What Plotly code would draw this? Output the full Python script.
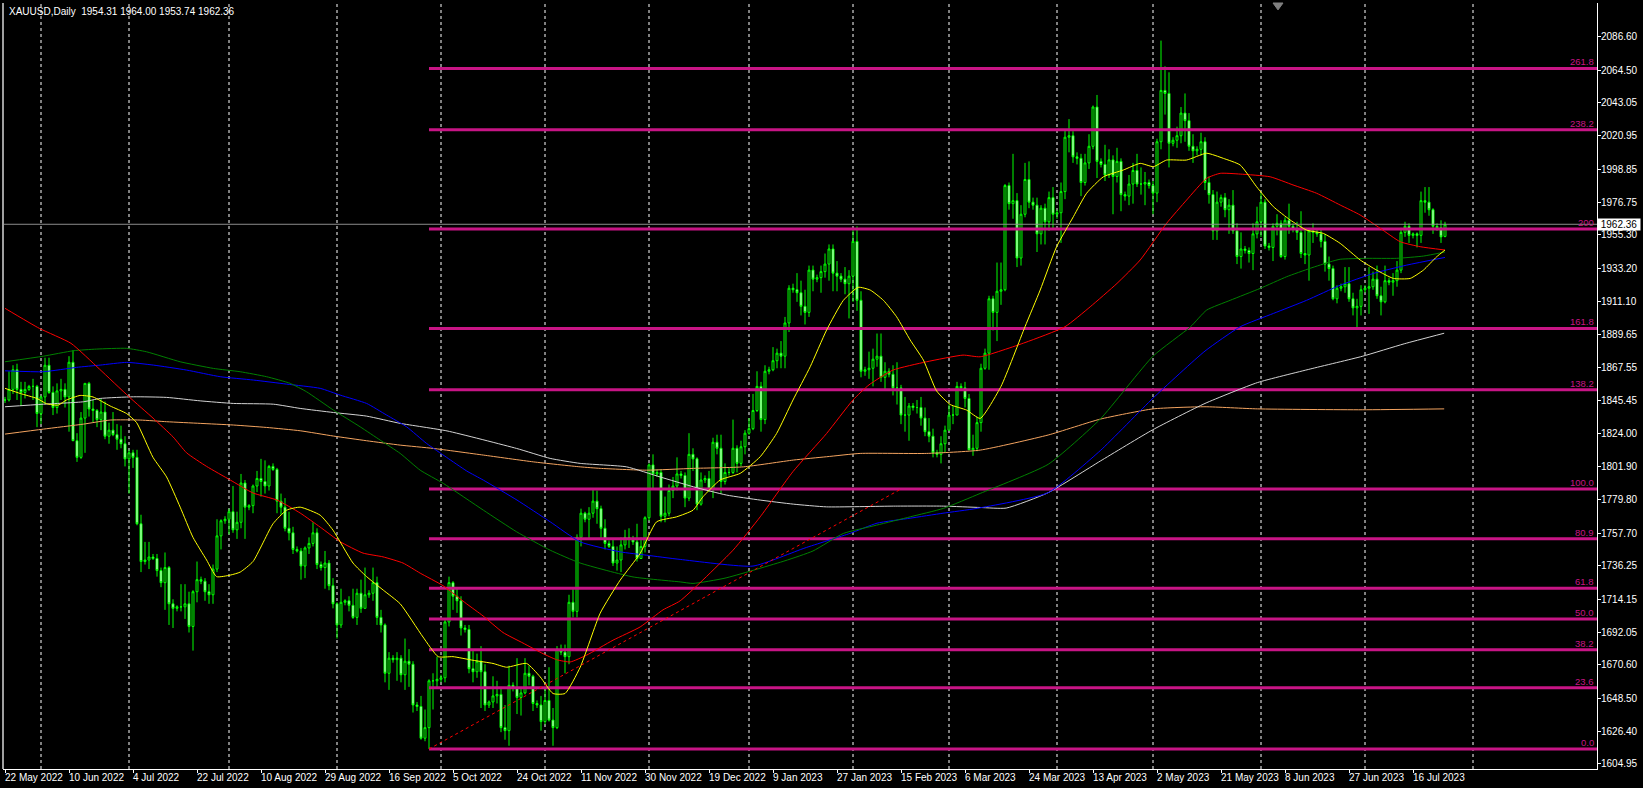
import plotly.graph_objects as go

# ---------------- OHLC (open, high, low, close) per month ----------------
may_2022 = [
    [1846, 1848, 1844, 1846], [1846, 1865, 1845, 1853], [1853, 1869, 1850, 1866], [1866, 1870, 1846, 1853],
    [1853, 1858, 1842, 1851], [1851, 1858, 1847, 1853], [1853, 1856, 1852, 1855], [1855, 1860, 1846, 1855],
    [1855, 1856, 1828, 1837],
]
jun_2022 = [
    [1837, 1849, 1830, 1848], [1848, 1874, 1843, 1869], [1869, 1874, 1850, 1851], [1851, 1855, 1836, 1841],
    [1841, 1857, 1837, 1852], [1852, 1860, 1846, 1853], [1853, 1857, 1841, 1848], [1848, 1875, 1825, 1871],
    [1871, 1879, 1819, 1819], [1819, 1824, 1805, 1808], [1808, 1838, 1807, 1834], [1834, 1857, 1811, 1857],
    [1857, 1858, 1835, 1840], [1840, 1846, 1831, 1839], [1839, 1840, 1828, 1833], [1833, 1847, 1826, 1838],
    [1838, 1845, 1820, 1822], [1822, 1831, 1817, 1826], [1826, 1838, 1822, 1823], [1823, 1830, 1813, 1820],
    [1820, 1829, 1814, 1817], [1817, 1822, 1802, 1807],
]
jul_2022 = [
    [1807, 1813, 1784, 1811], [1811, 1813, 1801, 1808], [1808, 1813, 1763, 1764], [1764, 1770, 1732, 1739],
    [1739, 1752, 1737, 1740], [1740, 1752, 1734, 1742], [1742, 1744, 1740, 1741], [1741, 1744, 1729, 1733],
    [1733, 1735, 1722, 1725], [1725, 1745, 1707, 1735], [1735, 1736, 1697, 1711], [1711, 1714, 1695, 1708],
    [1708, 1710, 1706, 1709], [1709, 1724, 1706, 1709], [1709, 1724, 1701, 1711], [1711, 1719, 1692, 1696],
    [1696, 1720, 1680, 1719], [1719, 1739, 1712, 1727], [1727, 1729, 1724, 1726], [1726, 1728, 1713, 1719],
    [1719, 1724, 1711, 1717], [1717, 1737, 1711, 1734], [1734, 1767, 1732, 1756], [1756, 1767, 1747, 1766],
    [1766, 1769, 1764, 1767],
]
aug_2022 = [
    [1767, 1774, 1757, 1772], [1772, 1789, 1758, 1760], [1760, 1772, 1754, 1765], [1765, 1797, 1761, 1791],
    [1791, 1793, 1754, 1775], [1775, 1777, 1773, 1776], [1776, 1790, 1771, 1789], [1789, 1799, 1785, 1794],
    [1794, 1807, 1782, 1792], [1792, 1806, 1784, 1789], [1789, 1803, 1786, 1802], [1802, 1804, 1799, 1800],
    [1800, 1801, 1771, 1779], [1779, 1784, 1770, 1775], [1775, 1781, 1759, 1761], [1761, 1772, 1753, 1758],
    [1758, 1762, 1744, 1747], [1747, 1749, 1745, 1746], [1746, 1748, 1727, 1736], [1736, 1749, 1728, 1748],
    [1748, 1755, 1744, 1751], [1751, 1765, 1749, 1758], [1758, 1761, 1734, 1737], [1737, 1739, 1733, 1735],
    [1735, 1746, 1721, 1738], [1738, 1740, 1720, 1723], [1723, 1728, 1708, 1711],
]
sep_2022 = [
    [1711, 1712, 1688, 1697], [1697, 1721, 1695, 1712], [1712, 1714, 1710, 1713], [1713, 1716, 1706, 1710],
    [1710, 1721, 1701, 1702], [1702, 1721, 1697, 1718], [1718, 1727, 1705, 1708], [1708, 1735, 1708, 1717],
    [1717, 1720, 1715, 1718], [1718, 1735, 1713, 1725], [1725, 1729, 1697, 1702], [1702, 1707, 1692, 1697],
    [1697, 1698, 1659, 1665], [1665, 1679, 1654, 1675], [1675, 1677, 1672, 1674], [1674, 1679, 1660, 1675],
    [1675, 1677, 1659, 1664], [1664, 1688, 1654, 1673], [1673, 1681, 1656, 1671], [1671, 1673, 1639, 1644],
    [1644, 1646, 1640, 1643], [1643, 1650, 1621, 1622], [1622, 1641, 1620, 1629], [1629, 1661, 1614.85, 1660],
    [1660, 1665, 1641, 1660], [1660, 1676, 1655, 1661],
]
oct_2022 = [
    [1661, 1664, 1659, 1662], [1662, 1701, 1659, 1699], [1699, 1729, 1696, 1725], [1725, 1726, 1707, 1716],
    [1716, 1721, 1705, 1713], [1713, 1716, 1690, 1695], [1695, 1697, 1692, 1694], [1694, 1697, 1665, 1668],
    [1668, 1681, 1659, 1666], [1666, 1678, 1662, 1673], [1673, 1683, 1642, 1666], [1666, 1671, 1640, 1644],
    [1644, 1647, 1642, 1646], [1646, 1663, 1642, 1650], [1650, 1660, 1645, 1651], [1651, 1656, 1626, 1629],
    [1629, 1644, 1621, 1627], [1627, 1670, 1617, 1657], [1657, 1659, 1653, 1655], [1655, 1675, 1638, 1649],
    [1649, 1656, 1637, 1652], [1652, 1675, 1651, 1665], [1665, 1670, 1657, 1663], [1663, 1664, 1640, 1645],
    [1645, 1647, 1642, 1644], [1644, 1650, 1627, 1633],
]
nov_2022 = [
    [1633, 1655, 1631, 1647], [1647, 1669, 1633, 1634], [1634, 1642, 1617, 1629], [1629, 1683, 1628, 1681],
    [1681, 1684, 1677, 1679], [1679, 1684, 1665, 1676], [1676, 1717, 1671, 1712], [1712, 1722, 1702, 1706],
    [1706, 1757, 1702, 1755], [1755, 1774, 1749, 1771], [1771, 1772, 1765, 1767], [1767, 1775, 1754, 1771],
    [1771, 1787, 1768, 1779], [1779, 1786, 1764, 1774], [1774, 1776, 1754, 1761], [1761, 1767, 1747, 1751],
    [1751, 1753, 1748, 1749], [1749, 1754, 1736, 1738], [1738, 1749, 1733, 1740], [1740, 1755, 1732, 1750],
    [1750, 1760, 1747, 1755], [1755, 1761, 1748, 1754], [1754, 1756, 1750, 1752], [1752, 1764, 1739, 1741],
    [1741, 1755, 1741, 1749], [1749, 1769, 1745, 1768],
]
dec_2022 = [
    [1768, 1804, 1766, 1803], [1803, 1810, 1787, 1797], [1797, 1800, 1795, 1798], [1798, 1800, 1765, 1769],
    [1769, 1782, 1765, 1771], [1771, 1790, 1769, 1786], [1786, 1795, 1781, 1789], [1789, 1808, 1786, 1797],
    [1797, 1799, 1794, 1796], [1796, 1798, 1775, 1781], [1781, 1824, 1779, 1810], [1810, 1814, 1799, 1807],
    [1807, 1808, 1773, 1777], [1777, 1798, 1776, 1793], [1793, 1796, 1791, 1794], [1794, 1799, 1785, 1787],
    [1787, 1821, 1781, 1818], [1818, 1823, 1810, 1814], [1814, 1823, 1784, 1792], [1792, 1804, 1790, 1798],
    [1798, 1801, 1796, 1798], [1798, 1833, 1797, 1814], [1814, 1816, 1798, 1804], [1804, 1819, 1802, 1815],
    [1815, 1826, 1810, 1824],
]
jan_2023 = [
    [1824, 1834, 1823, 1827], [1827, 1850, 1826, 1839], [1839, 1865, 1838, 1855], [1855, 1858, 1825, 1833],
    [1833, 1869, 1830, 1865], [1865, 1868, 1863, 1866], [1866, 1881, 1865, 1872], [1872, 1880, 1867, 1877],
    [1877, 1885, 1867, 1875], [1875, 1901, 1867, 1897], [1897, 1922, 1891, 1920], [1920, 1923, 1917, 1919],
    [1919, 1930, 1911, 1917], [1917, 1925, 1902, 1908], [1908, 1919, 1896, 1904], [1904, 1935, 1901, 1932],
    [1932, 1935, 1918, 1926], [1926, 1929, 1924, 1927], [1927, 1935, 1917, 1931], [1931, 1943, 1927, 1936],
    [1936, 1949, 1925, 1946], [1946, 1949, 1918, 1930], [1930, 1938, 1918, 1928], [1928, 1930, 1924, 1926],
    [1926, 1934, 1916, 1923], [1923, 1932, 1900, 1928],
]
feb_2023 = [
    [1928, 1959, 1911, 1951], [1951, 1961, 1905, 1912], [1912, 1918, 1861, 1865], [1865, 1868, 1862, 1866],
    [1866, 1878, 1860, 1867], [1867, 1880, 1855, 1873], [1873, 1890, 1868, 1875], [1875, 1890, 1858, 1861],
    [1861, 1871, 1853, 1865], [1865, 1867, 1861, 1863], [1863, 1869, 1849, 1854], [1854, 1871, 1843, 1854],
    [1854, 1856, 1830, 1836], [1836, 1848, 1825, 1836], [1836, 1844, 1819, 1842], [1842, 1844, 1839, 1841],
    [1841, 1846, 1837, 1841], [1841, 1848, 1829, 1834], [1834, 1841, 1822, 1825], [1825, 1834, 1818, 1822],
    [1822, 1827, 1808, 1811], [1811, 1813, 1808, 1810], [1810, 1822, 1804, 1817], [1817, 1829, 1811, 1826],
]
mar_2023 = [
    [1826, 1843, 1826, 1836], [1836, 1842, 1830, 1836], [1836, 1858, 1836, 1855], [1855, 1857, 1852, 1854],
    [1854, 1858, 1841, 1847], [1847, 1850, 1813, 1813], [1813, 1823, 1809, 1814], [1814, 1835, 1812, 1831],
    [1831, 1870, 1825, 1867], [1867, 1880, 1866, 1877], [1877, 1915, 1866, 1913], [1913, 1915, 1892, 1904],
    [1904, 1937, 1885, 1918], [1918, 1937, 1909, 1919], [1919, 1989, 1918, 1988], [1988, 1990, 1972, 1976],
    [1976, 2009, 1966, 1978], [1978, 1983, 1934, 1940], [1940, 1975, 1935, 1969], [1969, 2003, 1967, 1992],
    [1992, 2004, 1973, 1977], [1977, 1980, 1972, 1975], [1975, 1980, 1944, 1956], [1956, 1975, 1949, 1973],
    [1973, 1976, 1949, 1964], [1964, 1984, 1958, 1980], [1980, 1987, 1959, 1969],
]
apr_2023 = [
    [1969, 1972, 1966, 1970], [1970, 1990, 1950, 1984], [1984, 2025, 1979, 2020], [2020, 2032, 2010, 2021],
    [2021, 2024, 2003, 2007], [2007, 2010, 2002, 2006], [2006, 2009, 1981, 1990], [1990, 2009, 1988, 2003],
    [2003, 2022, 1999, 2014], [2014, 2041, 2012, 2040], [2040, 2048, 1993, 2004], [2004, 2006, 2000, 2002],
    [2002, 2015, 1991, 1995], [1995, 2012, 1993, 2005], [2005, 2008, 1969, 1994], [1994, 2013, 1990, 2004],
    [2004, 2006, 1971, 1982], [1982, 1984, 1978, 1981], [1981, 1995, 1975, 1989], [1989, 2003, 1976, 1998],
    [1998, 2009, 1987, 1989], [1989, 2000, 1982, 1989], [1989, 1997, 1975, 1990], [1990, 1992, 1986, 1988],
]
may_2023 = [
    [1988, 1991, 1969, 1983], [1983, 2019, 1977, 2017], [2017, 2084, 2012, 2051], [2051, 2067, 2035, 2049],
    [2049, 2063, 2000, 2016], [2016, 2020, 2014, 2018], [2018, 2027, 2013, 2021], [2021, 2040, 2016, 2036],
    [2036, 2049, 2017, 2031], [2031, 2036, 2011, 2014], [2014, 2022, 2003, 2011], [2011, 2014, 2008, 2012],
    [2012, 2023, 2008, 2017], [2017, 2020, 1985, 1990], [1990, 1994, 1976, 1982], [1982, 1985, 1952, 1958],
    [1958, 1984, 1952, 1977], [1977, 1982, 1974, 1980], [1980, 1983, 1967, 1972], [1972, 1979, 1956, 1975],
    [1975, 1985, 1956, 1958], [1958, 1963, 1936, 1941], [1941, 1957, 1933, 1946], [1946, 1948, 1943, 1945],
    [1945, 1947, 1937, 1943], [1943, 1963, 1932, 1956], [1956, 1974, 1953, 1964],
]
jun_2023 = [
    [1964, 1983, 1954, 1977], [1977, 1979, 1946, 1948], [1948, 1950, 1945, 1947], [1947, 1963, 1938, 1961],
    [1961, 1969, 1955, 1963], [1963, 1965, 1940, 1941], [1941, 1967, 1939, 1965], [1965, 1976, 1956, 1961],
    [1961, 1963, 1957, 1959], [1959, 1964, 1952, 1957], [1957, 1971, 1940, 1943], [1943, 1959, 1936, 1942],
    [1942, 1960, 1925, 1958], [1958, 1963, 1950, 1957], [1957, 1959, 1954, 1956], [1956, 1959, 1947, 1951],
    [1951, 1956, 1931, 1936], [1936, 1941, 1925, 1933], [1933, 1935, 1912, 1913], [1913, 1922, 1910, 1920],
    [1920, 1923, 1918, 1921], [1921, 1934, 1917, 1923], [1923, 1934, 1911, 1913], [1913, 1917, 1902, 1907],
    [1907, 1913, 1893, 1908], [1908, 1922, 1902, 1919],
]
jul_2023 = [
    [1919, 1922, 1917, 1920], [1920, 1934, 1903, 1921], [1921, 1931, 1919, 1926], [1926, 1935, 1913, 1915],
    [1915, 1921, 1902, 1911], [1911, 1935, 1910, 1925], [1925, 1927, 1922, 1924], [1924, 1930, 1915, 1925],
    [1925, 1938, 1921, 1932], [1932, 1960, 1930, 1957], [1957, 1964, 1954, 1961], [1961, 1963, 1950, 1955],
    [1955, 1957, 1953, 1956], [1956, 1957, 1947, 1955], [1955, 1984, 1950, 1978], [1978, 1987, 1970, 1977],
    [1977, 1987, 1968, 1972], [1972, 1973, 1956, 1961], [1961, 1963, 1958, 1960], [1960, 1965, 1950, 1954],
    [1954.31, 1964.00, 1953.74, 1962.36],
]

# ---------------- moving averages (bar index, price) ----------------
ma_yellow_bar = [0, 3.8, 8, 10.4, 13.3, 15.4, 18.8, 22, 26.3, 30.4, 32.9, 37, 40.4, 43.8, 47, 50.4, 52.9,
                 56.3, 58.8, 62, 67, 70.4, 73.8, 78.8, 82, 87, 90.4, 94.6, 98.8, 104.5, 108.3, 112, 117, 122,
                 125.4, 130.4, 133.8, 137, 140, 143.8, 148.8, 153.8, 158.8, 162.9, 167.9, 172, 174.5, 178.8,
                 183.8, 188.8, 192.9, 197, 201.3, 205.4, 209.6, 213.3, 216.3, 219.6, 222.9, 226.3, 229.6,
                 232.9, 236.3, 240.4, 243.8, 249, 255, 258.8, 262.9, 267.1, 270.4, 274.6, 279.6, 283.8,
                 287.1, 290.4, 295.4, 300.4, 304.6, 308.8, 312.9, 317.1, 321.3, 325.4, 329.6, 333.8,
                 338.8, 342.9, 347.1, 351.3, 354.6, 357.9, 360]
ma_yellow_price = [1853.7, 1850.3, 1847, 1843.5, 1842.6, 1846, 1849, 1848, 1842, 1837, 1831, 1808, 1795, 1775,
                   1755, 1740, 1729, 1730, 1732, 1739, 1764, 1773, 1775, 1769.7, 1759.8, 1738, 1729, 1720,
                   1711, 1689, 1676, 1676, 1673.6, 1671.5, 1669, 1671.5, 1662.6, 1651.6, 1651.6, 1669,
                   1704.8, 1726.7, 1744.4, 1765.3, 1768.6, 1773, 1781.9, 1793, 1797.4, 1808.4, 1823.8, 1846,
                   1868, 1892.3, 1912, 1920.6, 1918.8, 1912, 1901.1, 1885.7, 1872.4, 1852, 1843, 1839.3,
                   1833.8, 1855, 1894.5, 1918.8, 1947.5, 1967.4, 1982.9, 1993.8, 1998.3, 2002.7, 2000.5,
                   2004.9, 2004.9, 2009.4, 2006, 2001.6, 1987.2, 1974, 1965.2, 1958.5, 1956.3, 1949.7,
                   1938.7, 1932, 1926.5, 1926.5, 1932, 1940.8, 1945.3]

ma_red_bar = [0, 8.6, 16.5, 23.6, 31, 37, 42, 45.4, 50.4, 56.3, 62, 68, 73.8, 78.8, 83.8, 89.5, 94.5, 99.5,
              103.8, 109.5, 115.4, 119.5, 124.5, 129.5, 134.5, 137.9, 141.3, 145.4, 152, 158.8, 164.5, 168.8,
              182, 188.8, 197, 205.4, 212, 216, 222, 230.4, 239.5, 243.8, 255, 265, 271.3, 278, 283.8,
              290.4, 295.4, 300.4, 303.8, 308.8, 316.3, 322, 327.9, 333.8, 338.8, 343.8, 348.8, 353.8, 360]
ma_red_price = [1906.7, 1893.4, 1883.5, 1866.5, 1848.1, 1834, 1821.6, 1811, 1802, 1793.0, 1784.4, 1779.7,
                1771.1, 1761.8, 1752.1, 1744.6, 1742.1, 1738.0, 1731.3, 1723, 1711, 1703, 1692, 1685, 1678,
                1674, 1672.5, 1677, 1686.9, 1695.7, 1707, 1713, 1746.5, 1768.6, 1798.6, 1823.8, 1846,
                1856, 1865.8, 1871.3, 1875.7, 1874.6, 1884, 1894.5, 1907.7, 1923.2, 1938.7, 1963, 1978.4,
                1992.8, 1996.1, 1995.6, 1993.8, 1988.4, 1982.9, 1975.1, 1968.5, 1959.7, 1950.8, 1947.5,
                1945.3]

ma_green_bar = [0, 9.6, 17.1, 22.9, 30.4, 35.4, 43.8, 52.1, 58.8, 65.4, 71.3, 75.4, 82.1, 88.8, 93.8, 98.8,
                103.8, 109.6, 119.6, 127.9, 136.3, 143.8, 157, 168.8, 172, 180, 195, 202, 209.6, 217.9,
                226.3, 234.6, 243.8, 260.8, 273.8, 287, 296.4, 300.4, 306.3, 313.8, 320.4, 326.3, 331.3,
                333.8, 340.4, 347.9, 354.6, 360]
ma_green_price = [1871.3, 1875, 1878.6, 1879.7, 1880.2, 1877.9, 1871.3, 1866.9, 1864.7, 1861.4, 1857, 1851.4,
                  1839.3, 1828.2, 1819.4, 1810.6, 1799.5, 1790.7, 1773, 1758.7, 1746.5, 1738, 1728.8,
                  1725.5, 1724.5, 1728, 1739.5, 1746, 1757.6, 1763.1, 1768.6, 1774.2, 1784.1, 1803.4,
                  1833.3, 1875, 1894.5, 1905.5, 1912, 1919.9, 1927.6, 1933.2, 1937.5, 1939.2, 1939.8,
                  1939.8, 1941.3, 1944]

ma_blue_bar = [0, 9.6, 17.9, 23.8, 30.4, 37.1, 45.4, 53.8, 62.1, 70.4, 78.8, 83.8, 90.4, 95.4, 100.4, 105.4,
               110.4, 115.4, 119.6, 128, 136.3, 143.8, 153.8, 160.4, 168.8, 187, 200, 211.3, 218, 226.3,
               234.5, 243, 260.8, 273.8, 287, 300, 308.8, 317.1, 325.4, 333.8, 342.1, 350.4, 360]
ma_blue_price = [1865.3, 1864.7, 1867.6, 1869.1, 1870.9, 1869.1, 1865.8, 1861.4, 1859.2, 1856.5, 1853.7,
                 1849.2, 1843.7, 1836, 1828.2, 1817.2, 1808, 1799, 1792.9, 1779.7, 1765.3, 1752, 1745.4,
                 1743.2, 1740.4, 1736, 1748, 1757.7, 1764.4, 1767.7, 1771, 1774.2, 1784.6, 1812.4, 1847.2,
                 1878.4, 1894.5, 1903.3, 1912, 1922, 1929.8, 1935.3, 1940.4]

ma_white_bar = [0, 9.6, 19.6, 23.8, 32.1, 40.4, 48.8, 57.1, 67.1, 73.8, 82.1, 90.4, 98.8, 110.5, 127.9,
                136.3, 143.8, 155.4, 163.8, 172.1, 180.4, 188.8, 197.1, 205.4, 222.1, 234.6, 243.8, 250.3,
                260.8, 273.8, 286.9, 300, 313.1, 326.3, 339.3, 349.8, 359.8]
ma_white_price = [1841.5, 1843.2, 1844.8, 1847, 1848.1, 1847.7, 1845.4, 1843.7, 1843.2, 1840.4, 1837.7,
                  1835.3, 1830.5, 1825.5, 1813.9, 1807.3, 1804, 1801.7, 1795, 1788.5, 1783, 1779.7, 1777,
                  1775.2, 1775.7, 1775.7, 1774.8, 1774.4, 1784.6, 1805.5, 1826.2, 1843.7, 1857.5, 1866.5,
                  1874.9, 1883.2, 1890.2]

ma_orange_bar = [0, 9.6, 19.6, 26.3, 33.8, 40.4, 48.8, 57.1, 65.4, 73.8, 82.1, 90.4, 98.8, 107.1, 119.6,
                 132.1, 143.8, 148.8, 160.4, 172.1, 184.6, 197.1, 205.4, 213.8, 230.4, 243.8, 260.8, 273.8,
                 287, 300, 313.1, 339.3, 359.8]
ma_orange_price = [1823.4, 1826.7, 1830, 1832.7, 1832.7, 1831.6, 1830.5, 1829.4, 1827.8, 1825.6, 1822.1,
                   1819, 1816.1, 1813.9, 1809.5, 1805, 1801.7, 1800.7, 1799.5, 1800.7, 1801.7, 1806.2,
                   1808.4, 1810.6, 1810.6, 1812.8, 1822.8, 1833.3, 1840.1, 1841.5, 1840.1, 1839.5, 1840.1]

# ---------------- Fibonacci object ----------------
fib_start_bar = 106
fib_end_bar = 224
fib_price_0 = 1614.85
fib_price_100 = 1787.0
fib_levels = [0.0, 23.6, 38.2, 50.0, 61.8, 80.9, 100.0, 138.2, 161.8, 200.0, 238.2, 261.8]
fib_texts = ["0.0", "23.6", "38.2", "50.0", "61.8", "80.9", "100.0", "138.2", "161.8", "200", "238.2", "261.8"]

# ---------------- axes text ----------------
date_labels = ["22 May 2022", "10 Jun 2022", "4 Jul 2022", "22 Jul 2022", "10 Aug 2022", "29 Aug 2022",
               "16 Sep 2022", "5 Oct 2022", "24 Oct 2022", "11 Nov 2022", "30 Nov 2022", "19 Dec 2022",
               "9 Jan 2023", "27 Jan 2023", "15 Feb 2023", "6 Mar 2023", "24 Mar 2023", "13 Apr 2023",
               "2 May 2023", "21 May 2023", "8 Jun 2023", "27 Jun 2023", "16 Jul 2023"]
date_label_bars = [16 * k for k in range(len(date_labels))]
month_start_bars = [9, 31, 56, 83, 109, 135, 161, 186, 212, 236, 263, 287, 314, 340, 367]
price_ticks = [1604.95, 1626.40, 1648.50, 1670.60, 1692.05, 1714.15, 1736.25, 1757.70, 1779.80, 1801.90,
               1824.00, 1845.45, 1867.55, 1889.65, 1911.10, 1933.20, 1955.30, 1976.75, 1998.85, 2020.95,
               2043.05, 2064.50, 2086.60]
symbol_title = "XAUUSD,Daily  1954.31 1964.00 1953.74 1962.36"
bid_price = 1962.36

# ---------------- build ----------------
rows = [r for m in [may_2022, jun_2022, jul_2022, aug_2022, sep_2022, oct_2022, nov_2022, dec_2022,
                    jan_2023, feb_2023, mar_2023, apr_2023, may_2023, jun_2023, jul_2023] for r in m]
bars = list(range(len(rows)))
opens = [r[0] for r in rows]
highs = [r[1] for r in rows]
lows = [r[2] for r in rows]
closes = [r[3] for r in rows]

Y_MIN, Y_MAX = 1601.6, 2108.9
X_MIN, X_MAX = -0.5, 398.0
FONT = "Liberation Sans"
FIB_COLOR = "#C71585"
LIME = "#00FF00"

fig = go.Figure()

# Fibonacci level rays
fx, fy = [], []
fib_prices = [fib_price_0 + lv / 100.0 * (fib_price_100 - fib_price_0) for lv in fib_levels]
for p in fib_prices:
    fx += [fib_start_bar, X_MAX + 5, None]
    fy += [p, p, None]
fig.add_trace(go.Scatter(x=fx, y=fy, mode="lines", line=dict(color=FIB_COLOR, width=3), hoverinfo="skip"))

# candles
fig.add_trace(go.Candlestick(
    x=bars, open=opens, high=highs, low=lows, close=closes,
    increasing=dict(line=dict(color=LIME, width=1), fillcolor="#000000"),
    decreasing=dict(line=dict(color=LIME, width=1), fillcolor="#FFFFFF"),
    whiskerwidth=0, hoverinfo="skip"))

# moving averages
for bx, py, col in [
    (ma_orange_bar, ma_orange_price, "#F4A460"),
    (ma_white_bar, ma_white_price, "#D3D3D3"),
    (ma_blue_bar, ma_blue_price, "#0000FF"),
    (ma_green_bar, ma_green_price, "#008000"),
    (ma_red_bar, ma_red_price, "#FF0000"),
    (ma_yellow_bar, ma_yellow_price, "#FFFF00"),
]:
    fig.add_trace(go.Scatter(x=bx, y=py, mode="lines",
                             line=dict(color=col, width=1, shape="spline", smoothing=0.5),
                             hoverinfo="skip"))

# fib trend line (dotted)
fig.add_trace(go.Scatter(x=[fib_start_bar, fib_end_bar], y=[fib_price_0, fib_price_100], mode="lines",
                         line=dict(color="#FF0000", width=1, dash="dot"), hoverinfo="skip"))

# bid line
fig.add_trace(go.Scatter(x=[X_MIN - 5, X_MAX + 5], y=[bid_price, bid_price], mode="lines",
                         line=dict(color="#8C8C8C", width=1), hoverinfo="skip"))

shapes = []
for b in month_start_bars:
    shapes.append(dict(type="line", xref="x", yref="paper", x0=b, x1=b, y0=0, y1=1, layer="below",
                       line=dict(color="#FFFFFF", width=1, dash="3px,3px")))
shapes.append(dict(type="line", xref="paper", yref="paper", x0=0, x1=0, y0=0, y1=1,
                   line=dict(color="#A0A0A0", width=2)))
shapes.append(dict(type="path", xref="x", yref="paper",
                   path="M 317.0,1.0 L 319.5,1.0 L 318.25,0.991 Z",
                   fillcolor="#808080", line=dict(color="#808080", width=1)))

annotations = []
for b, t in zip(date_label_bars, date_labels):
    annotations.append(dict(x=b, xref="x", y=0, yref="paper", text=t, showarrow=False,
                            xanchor="left", yanchor="top", xshift=-2, yshift=-1,
                            font=dict(family=FONT, size=10, color="#FFFFFF")))
for p, t in zip(fib_prices, fib_texts):
    annotations.append(dict(x=1, xref="paper", y=p, yref="y", text=t, showarrow=False,
                            xanchor="right", yanchor="bottom", xshift=-1, yshift=-1,
                            font=dict(family=FONT, size=9.5, color=FIB_COLOR)))
annotations.append(dict(x=1, xref="paper", y=bid_price, yref="y", text=f"{bid_price:.2f}", showarrow=False,
                        xanchor="left", yanchor="middle", bgcolor="#FFFFFF", width=42, height=11,
                        borderpad=0, font=dict(family=FONT, size=10, color="#000000")))
annotations.append(dict(x=0, xref="paper", y=1, yref="paper", text=symbol_title, showarrow=False,
                        xanchor="left", yanchor="top", xshift=4, yshift=-1,
                        font=dict(family=FONT, size=10, color="#FFFFFF")))

fig.update_layout(
    width=1643, height=788,
    margin=dict(l=3, r=46, t=3, b=19),
    paper_bgcolor="#000000", plot_bgcolor="#000000",
    showlegend=False, hovermode=False,
    shapes=shapes, annotations=annotations,
    xaxis=dict(range=[X_MIN, X_MAX], showgrid=False, zeroline=False, rangeslider=dict(visible=False),
               tickmode="array", tickvals=date_label_bars, showticklabels=False,
               ticks="outside", ticklen=3, tickcolor="#FFFFFF",
               showline=True, linecolor="#FFFFFF", linewidth=1),
    yaxis=dict(range=[Y_MIN, Y_MAX], side="right", showgrid=False, zeroline=False,
               tickmode="array", tickvals=price_ticks, ticktext=[f"{v:.2f}" for v in price_ticks],
               ticks="outside", ticklen=3, tickcolor="#FFFFFF", ticklabelstandoff=-2,
               tickfont=dict(family=FONT, size=10, color="#FFFFFF"),
               showline=True, linecolor="#FFFFFF", linewidth=1),
)

fig.write_html("out.html", config={"displayModeBar": False},
               post_script="document.body.style.margin='0px';document.body.style.overflow='hidden';"
                           "document.body.style.background='#000';")
